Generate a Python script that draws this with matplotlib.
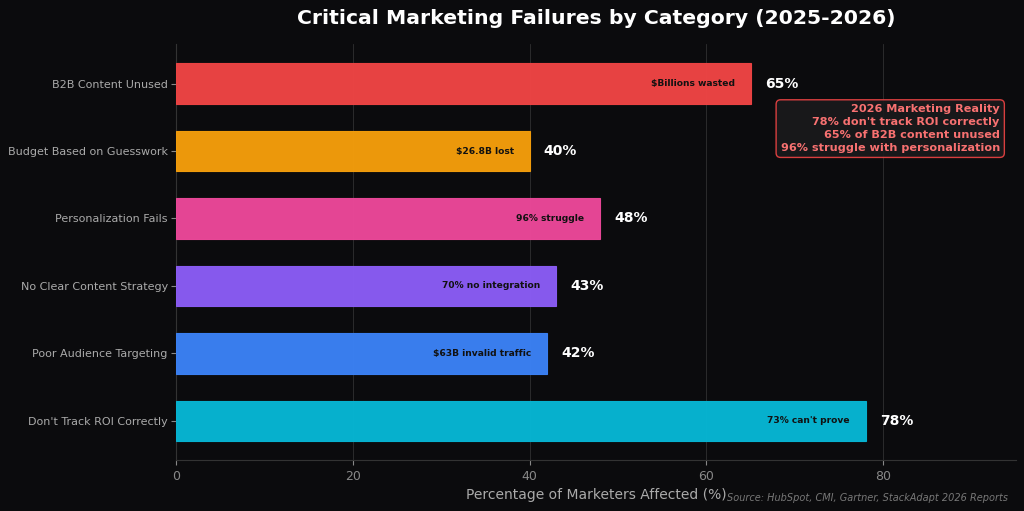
import matplotlib
matplotlib.use("Agg")
import matplotlib.pyplot as plt

categories = ["Don't Track ROI Correctly", "Poor Audience Targeting",
              "No Clear Content Strategy", "Personalization Fails",
              "Budget Based on Guesswork", "B2B Content Unused"]
values = [78, 42, 43, 48, 40, 65]
inner_labels = ["73% can't prove", "$63B invalid traffic", "70% no integration",
                "96% struggle", "$26.8B lost", "$Billions wasted"]
colors = ["#06b6d4", "#3b82f6", "#8b5cf6", "#ec4899", "#f59e0b", "#ef4444"]

bg = "#0b0b0d"
fig, ax = plt.subplots(figsize=(10.24, 5.11), dpi=100)
fig.patch.set_facecolor(bg)
ax.set_facecolor(bg)

bars = ax.barh(categories, values, height=0.6, color=colors, alpha=0.97,
               edgecolor=colors, linewidth=0.8, zorder=3)

for bar, v, lab in zip(bars, values, inner_labels):
    y = bar.get_y() + bar.get_height() / 2
    ax.text(v - 1.8, y, lab, ha="right", va="center", fontsize=6.6,
            fontweight="bold", color="#111111", zorder=4)
    ax.text(v + 1.6, y, f"{v}%", ha="left", va="center", fontsize=10,
            fontweight="bold", color="white", zorder=4)

ax.set_xlim(0, 95)
ax.set_title("Critical Marketing Failures by Category (2025-2026)",
             fontsize=14.7, fontweight="bold", color="white", pad=15)
ax.set_xlabel("Percentage of Marketers Affected (%)", fontsize=10,
              color="#aaaaaa", labelpad=4)
ax.tick_params(axis="x", colors="#888888", labelsize=9)
ax.tick_params(axis="y", colors="#888888", labelsize=8, labelcolor="#aaaaaa",
               pad=2.5)
ax.grid(axis="x", color="#555555", linewidth=0.6, alpha=0.5, zorder=0)
for s in ["top", "right"]:
    ax.spines[s].set_visible(False)
for s in ["left", "bottom"]:
    ax.spines[s].set_color("#333333")

ax.text(0.981, 0.856,
        "2026 Marketing Reality\n78% don't track ROI correctly\n"
        "65% of B2B content unused\n96% struggle with personalization",
        transform=ax.transAxes, ha="right", va="top", fontsize=8.1,
        fontweight="bold", color="#f87171", linespacing=1.36, zorder=5,
        bbox=dict(boxstyle="round,pad=0.4", facecolor="#1a1a1c",
                  edgecolor="#ef4444", alpha=0.9))

fig.text(0.984, 0.015, "Source: HubSpot, CMI, Gartner, StackAdapt 2026 Reports",
         ha="right", va="bottom", fontsize=7, style="italic", color="#777777")

plt.subplots_adjust(left=0.172, right=0.992, top=0.913, bottom=0.1)
plt.savefig("out.png", dpi=100, facecolor=bg)
